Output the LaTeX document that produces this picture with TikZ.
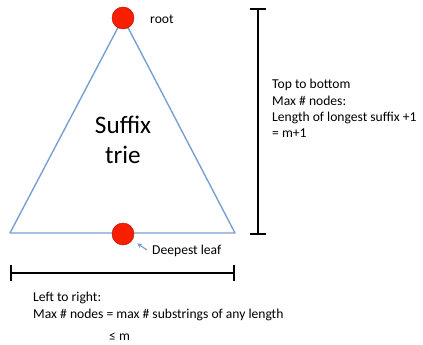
\documentclass[tikz,border=0pt]{standalone}
\usepackage{fontspec}
\setmainfont{Carlito}
\usepackage{xcolor}
\usetikzlibrary{positioning,arrows.meta}
\definecolor{trieblue}{RGB}{120,160,210}
\definecolor{dotred}{RGB}{250,30,0}

\begin{document}
\begin{tikzpicture}[
  x=0.03cm, y=-0.03cm,
  dot/.style={circle, draw=dotred!70!black, line width=0.4pt, fill=dotred,
              minimum size=0.66cm, inner sep=0pt},
  edge/.style={draw=trieblue, line width=1.2pt, line join=round},
  span/.style={{Bar[width=0.5cm]}-{Bar[width=0.5cm]}, line width=1.6pt},
  note/.style={inner sep=0pt, align=left, font=\fontsize{11.6}{14}\selectfont},
]
\useasboundingbox (0,0) rectangle (423,345);

\coordinate (left) at (10,233);
\coordinate (right) at (235,233);
\coordinate (apex) at (123,18);
\draw[edge] (apex) -- (left) -- (right) -- cycle;

\node[dot] (root) at (apex) {};
\node[dot] (leaf) at (123,234) {};
\node[font=\fontsize{21.5}{25.5}\selectfont, align=center] (name) at (123,140) {Suffix\\trie};

\node[note, anchor=west] (rootlabel) at (150,19) {root};
\node[note, anchor=west] (leaflabel) at (152,251) {Deepest leaf};
\coordinate (tail) at (147,250);
\draw[-{Stealth[length=4pt,width=4pt]}, trieblue, line width=1pt, shorten >=5pt] (tail) -- (leaf);

\coordinate (vtop) at (258,8);
\coordinate (vbot) at (258,235);
\draw[span] (vtop) -- (vbot);
\coordinate (hleft) at (10,273);
\coordinate (hright) at (235,273);
\draw[span] (hleft) -- (hright);

\node[note, anchor=north west] (depth) at (272,79)
  {Top to bottom\\Max \# nodes:\\Length of longest suffix +1\\= m+1};
\node[note, anchor=north west] (width) at (33,292)
  {Left to right:\\Max \# nodes = max \# substrings of any length};
\node[note, anchor=west] (bound) at (109,337) {≤ m};
\end{tikzpicture}
\end{document}
